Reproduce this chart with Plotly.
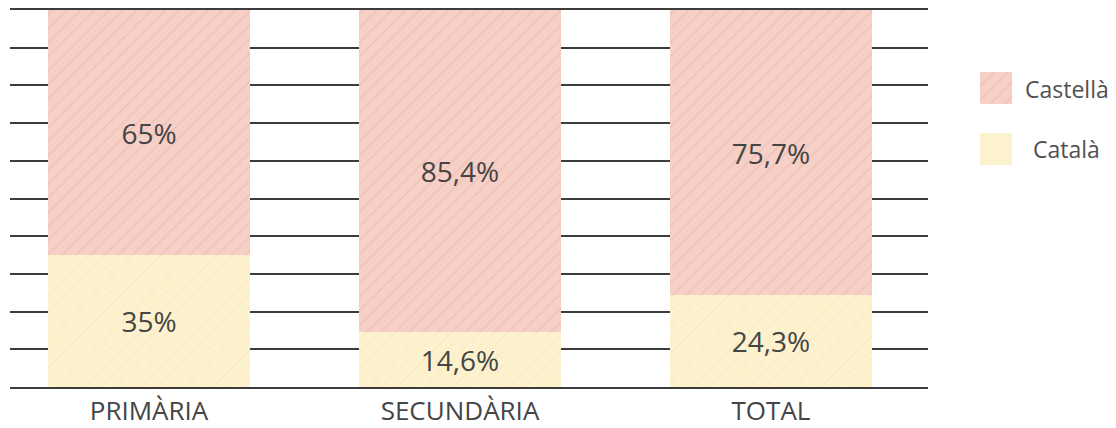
import plotly.graph_objects as go

categories = ["PRIMÀRIA", "SECUNDÀRIA", "TOTAL"]
catala = [35, 14.6, 24.3]
castella = [65, 85.4, 75.7]
catala_labels = ["35%", "14,6%", "24,3%"]
castella_labels = ["65%", "85,4%", "75,7%"]
series_names = ["Castellà", "Català"]

W, H = 1116, 428
FONT = "Open Sans"
TXT = "#454545"

C_BG, C_FG = "#f6d0c7", "#eaa9a0"
K_BG, K_FG = "#fdf2cf", "#f8e3a6"

fig = go.Figure()
xs = list(range(len(categories)))
fig.add_trace(go.Bar(
    x=xs, y=catala, name=series_names[1], width=0.65,
    marker=dict(color=K_BG, line=dict(width=0),
                pattern=dict(shape="/", fgcolor=K_FG, bgcolor=K_BG, size=10, solidity=0.12)),
    text=catala_labels, textposition="inside", insidetextanchor="middle",
    textfont=dict(family=FONT, size=28, color=TXT), showlegend=False,
))
fig.add_trace(go.Bar(
    x=xs, y=castella, name=series_names[0], width=0.65,
    marker=dict(color=C_BG, line=dict(width=0),
                pattern=dict(shape="/", fgcolor=C_FG, bgcolor=C_BG, size=10, solidity=0.12)),
    text=castella_labels, textposition="inside", insidetextanchor="middle",
    textfont=dict(family=FONT, size=28, color=TXT), showlegend=False,
))

# legend swatches drawn as bars in a small auxiliary axis
fig.add_trace(go.Bar(
    x=[0], y=[32], base=[61], width=1, xaxis="x2", yaxis="y2", showlegend=False,
    marker=dict(color=C_BG, line=dict(width=0),
                pattern=dict(shape="/", fgcolor=C_FG, bgcolor=C_BG, size=10, solidity=0.12)),
    hoverinfo="skip",
))
fig.add_trace(go.Bar(
    x=[0], y=[32], base=[0], width=1, xaxis="x2", yaxis="y2", showlegend=False,
    marker=dict(color=K_BG, line=dict(width=0)), hoverinfo="skip",
))

fig.update_layout(
    width=W, height=H,
    margin=dict(l=0, r=0, t=0, b=0),
    paper_bgcolor="white", plot_bgcolor="white",
    barmode="stack", bargap=0,
    uniformtext=dict(mode=False),
    xaxis=dict(domain=[10 / W, 928 / W], range=[-0.447, 2.505],
               tickmode="array", tickvals=xs, ticktext=categories,
               tickfont=dict(family=FONT, size=26, color=TXT),
               showgrid=False, zeroline=False,
               showline=True, mirror=True, linecolor="#3c3c3c", linewidth=1.5,
               ticks="", ticklabelstandoff=0,
               automargin=False, fixedrange=True),
    yaxis=dict(domain=[(H - 387) / H, (H - 10) / H], range=[0, 100],
               tickmode="linear", dtick=10, showticklabels=False,
               showgrid=True, gridcolor="#3c3c3c", gridwidth=1.5,
               zeroline=False,
               automargin=False, fixedrange=True),
    xaxis2=dict(domain=[980 / W, 1012 / W], range=[-0.5, 0.5], anchor="y2",
                visible=False, fixedrange=True),
    yaxis2=dict(domain=[(H - 165) / H, (H - 72) / H], range=[0, 93], anchor="x2",
                visible=False, fixedrange=True),
    annotations=[
        dict(text=series_names[0], x=1067 / W, y=(H - 89) / H, xref="paper", yref="paper",
             showarrow=False, xanchor="center", yanchor="middle",
             font=dict(family=FONT, size=23, color="#505050")),
        dict(text=series_names[1], x=1066 / W, y=(H - 149) / H, xref="paper", yref="paper",
             showarrow=False, xanchor="center", yanchor="middle",
             font=dict(family=FONT, size=23, color="#505050")),
    ],
)
fig.write_html("out.html", config={"displayModeBar": False})
